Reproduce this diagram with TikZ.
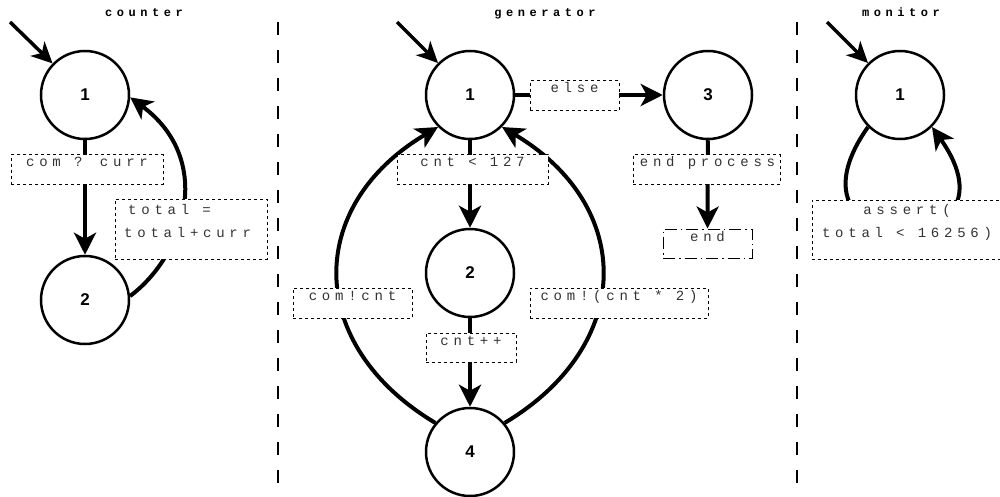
\documentclass[tikz,border=0pt]{standalone}
\usepackage{fontspec}
\usetikzlibrary{arrows.meta}
\newfontfamily\lblfam[LetterSpace=34]{Liberation Mono}
\newfontfamily\ttlfam[LetterSpace=38]{Liberation Mono}
\newfontfamily\numfam{Liberation Sans}
\tikzset{
  st/.style={circle, draw, line width=2.5pt, minimum size=88pt, inner sep=0pt,
    font={\numfam\bfseries\fontsize{17}{20}\selectfont}},
  edge/.style={line width=4pt, -{Stealth[length=22pt,width=22pt,inset=6pt]}},
  initedge/.style={line width=3.5pt, -{Stealth[length=21pt,width=20pt,inset=6pt]}},
  lblbox/.style={draw, fill=white, line width=1pt, dash pattern=on 3pt off 3pt, inner sep=0pt},
  endbox/.style={draw, fill=white, line width=1pt, dash pattern=on 12pt off 4pt on 1.5pt off 4pt, inner sep=0pt},
  lbltext/.style={font={\lblfam\fontsize{14}{16}\selectfont}, anchor=base, inner sep=0pt, text=black!80},
  ttl/.style={font={\ttlfam\bfseries\fontsize{12}{14}\selectfont}, anchor=base, inner sep=0pt},
  sep/.style={line width=1.5pt, dash pattern=on 13pt off 15pt}
}
\begin{document}
\begin{tikzpicture}[x=1pt, y=-1pt]
\useasboundingbox[fill=white] (0,0) rectangle (1000,497);
% separators
\draw[sep] (278,22) -- (278,497);
\draw[sep] (797,22) -- (797,497);
% titles
\node[ttl] (tcounter) at (144,16.5) {counter};
\node[ttl] (tgen) at (545,16.5) {generator};
\node[ttl] (tmon) at (901,16.5) {monitor};
% ---------- counter ----------
\node[st] (c1) at (85,95) {1};
\node[st] (c2) at (85,300) {2};
\coordinate (ci) at (10,22);
\draw[initedge] (ci) -- (c1);
\draw[edge] (c1) -- (c2);
\draw[edge] (c2.5) .. controls (185,255) and (215,160) .. (c1.-3);
\node[lblbox, minimum width=152pt, minimum height=29pt] (bc1) at (87,169.5) {};
\node[lbltext] (tc1) at (87,167) {com ? curr};
\node[lblbox, minimum width=152pt, minimum height=60pt] (bc2) at (191,229) {};
\node[lbltext, anchor=base west] (tc2a) at (128,214) {total =};
\node[lbltext, anchor=base west] (tc2b) at (124,237) {total+curr};
% ---------- generator ----------
\node[st] (g1) at (470,95) {1};
\node[st] (g2) at (470,273) {2};
\node[st] (g3) at (708,95) {3};
\node[st] (g4) at (470,452) {4};
\coordinate (gi) at (397,22);
\draw[initedge] (gi) -- (g1);
\node[endbox, minimum width=89pt, minimum height=29pt] (gend) at (707.5,243.5) {};
\draw[edge] (g1) -- (g2);
\draw[edge] (g2) -- (g4);
\draw[edge] (g1) -- (g3);
\draw[edge] (g3) -- (gend);
\draw[edge] (g4.140) .. controls (305,345) and (305,206) .. (g1.225);
\draw[edge] (g4.40) .. controls (635,345) and (635,206) .. (g1.-45);
\node[lbltext] (tend) at (707.5,241) {end};
\node[lblbox, minimum width=151pt, minimum height=29pt] (bg1) at (472.5,169.5) {};
\node[lbltext] (tg1) at (472.5,167) {cnt < 127};
\node[lblbox, minimum width=89pt, minimum height=30pt] (bg2) at (574.5,96) {};
\node[lbltext] (tg2) at (574.5,93) {else};
\node[lblbox, minimum width=147pt, minimum height=29pt] (bg3) at (706.5,169.5) {};
\node[lbltext] (tg3) at (707.5,167) {end process};
\node[lblbox, minimum width=90pt, minimum height=29pt] (bg4) at (471,347.5) {};
\node[lbltext] (tg4) at (471,345) {cnt++};
\node[lblbox, minimum width=119pt, minimum height=30pt] (bg5) at (352.5,303) {};
\node[lbltext] (tg5) at (352.5,300) {com!cnt};
\node[lblbox, minimum width=178pt, minimum height=30pt] (bg6) at (619,303) {};
\node[lbltext] (tg6) at (619,300) {com!(cnt * 2)};
% ---------- monitor ----------
\node[st] (m1) at (900,95) {1};
\coordinate (mi) at (827,22);
\draw[initedge] (mi) -- (m1);
\draw[edge] (m1.225) .. controls (770,265) and (1030,265) .. (m1.-45);
\node[lblbox, minimum width=190pt, minimum height=59pt] (bm1) at (907,229.5) {};
\node[lbltext] (tm1a) at (907,214) {assert(};
\node[lbltext] (tm1b) at (907,237) {total < 16256)};
\end{tikzpicture}
\end{document}
